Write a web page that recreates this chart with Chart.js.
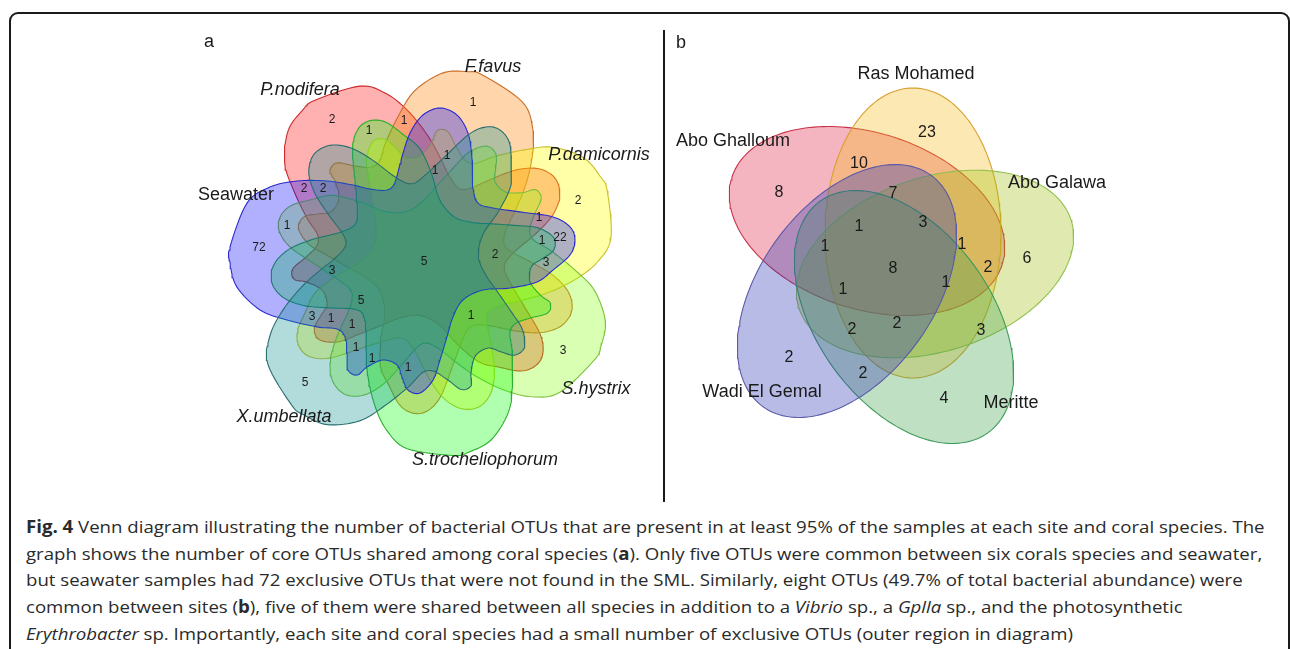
<!DOCTYPE html>
<html>
<head>
<meta charset="utf-8">
<script src="https://cdn.jsdelivr.net/npm/chart.js@4.4.1/dist/chart.umd.min.js"></script>
<style>
  html, body { margin: 0; padding: 0; background: #fff; width: 1290px; height: 649px; overflow: hidden; }
  #frame { position: absolute; left: 9px; top: 12px; width: 1281px; height: 700px; box-sizing: border-box;
           border: 2px solid #1a1a1a; border-radius: 9px; }
  #divider { position: absolute; left: 663px; top: 30px; width: 2px; height: 472px; background: #1a1a1a; }
  #wrapA { position: absolute; left: 0; top: 0; width: 664px; height: 505px; }
  #wrapB { position: absolute; left: 666px; top: 0; width: 624px; height: 505px; }
  #caption { position: absolute; left: 26px; top: 514px; font-family: "Open Sans", sans-serif; font-size: 17px;
             color: #2a2a2a; transform-origin: 0 0; }
  #caption div { height: 26.7px; line-height: 26.7px; white-space: nowrap; }
</style>
</head>
<body>
<div id="frame"></div>
<div id="divider"></div>
<div id="wrapA"><canvas id="venn7" width="664" height="505"></canvas></div>
<div id="wrapB"><canvas id="venn5" width="624" height="505"></canvas></div>
<div id="caption">
  <div id="cap1"><b>Fig. 4</b> Venn diagram illustrating the number of bacterial OTUs that are present in at least 95% of the samples at each site and coral species. The</div>
  <div>graph shows the number of core OTUs shared among coral species (<b>a</b>). Only five OTUs were common between six corals species and seawater,</div>
  <div>but seawater samples had 72 exclusive OTUs that were not found in the SML. Similarly, eight OTUs (49.7% of total bacterial abundance) were</div>
  <div>common between sites (<b>b</b>), five of them were shared between all species in addition to a <i>Vibrio</i> sp., a <i>Gplla</i> sp., and the photosynthetic</div>
  <div><i>Erythrobacter</i> sp. Importantly, each site and coral species had a small number of exclusive OTUs (outer region in diagram)</div>
</div>

<script>
// ---- data: panel a (coral species + seawater)
const setsA = ['Seawater', 'P.nodifera', 'F.favus', 'P.damicornis', 'S.hystrix', 'S.trocheliophorum', 'X.umbellata'];
const countsA = [72, 2, 1, 2, 3, 5, 1, 1, 1, 1, 2, 2, 1, 1, 1, 22, 3, 5, 2, 3, 5, 3, 1, 1, 1, 1, 1, 1];

// ---- data: panel b (sites)
const setsB = ['Abo Ghalloum', 'Ras Mohamed', 'Abo Galawa', 'Meritte', 'Wadi El Gemal'];
const countsB = [23, 10, 8, 7, 3, 1, 1, 1, 6, 2, 8, 1, 1, 2, 2, 3, 2, 2, 4];

// ---- layout (where the region numbers and set names sit)
const countPosA = [[259,248],[332,120],[473,103],[578,201],[563,351],[305,383],[404,121],[369,131],[447,156],[435,171],
  [304,189],[323,189],[287,226],[539,218],[542,241],[560,238],[546,263],[424,262],[495,255],[332,271],[361,301],
  [312,317],[331,319],[352,325],[471,316],[356,348],[372,359],[408,368]];
const namePosA = [[236,195],[300,90],[493,67],[599,155],[596,389],[485,460],[284,417]];
const countPosB = [[927,133],[859,164],[779,193],[893,194],[923,223],[859,227],[825,247],[962,245],[1027,259],[988,268],
  [893,269],[946,283],[843,290],[852,330],[897,324],[981,331],[789,358],[863,374],[944,399]];
const namePosB = [[733,141],[916,74],[1057,183],[1011,403],[762,392]];

// 7-set shape: one petal outline (polar, around the centre), rotated for each set
const centreA = [425, 262];
const petalAngles = [184.4,198.3,205.8,212.3,219.6,226.9,233,242.2,249.4,257.6,263.4,269.2,275.6,282.3,288.4,294.1,302.6,
  311.9,321.5,332.2,340.6,346.4,351.7,357.2,363.6,370.1,377,385.8,405,423,433.7,441.3,446.1,452.2,457.6,461.3,465.2,
  473.2,478.9,481,485.5,490.6,496.8,502.7,509,517.2,523.8,532.4,539.7];
const petalRadii = [195.6,187.5,172.2,151.5,127.1,105.4,91.4,81.4,85.4,107.5,129.9,147,154.7,150.4,136,115,89,79.3,86.8,
  107.4,135.7,149.2,151.6,145.2,128.2,113.8,88.9,64.4,53.7,61.7,78.2,99.1,118.3,131.1,129.1,117.3,106.7,106.6,120,131.9,
  132.6,119.9,109.7,110.6,126,149.7,171.8,189.7,195];

const fillA = ['rgba(0,0,255,0.31)','rgba(255,0,0,0.31)','rgba(255,128,0,0.33)','rgba(255,255,0,0.34)',
  'rgba(128,255,0,0.30)','rgba(0,255,0,0.31)','rgba(0,139,139,0.30)'];
const lineA = ['#2a2ad0','#cc2a2a','#c8702a','#c8c02a','#7cc03a','#2ab02a','#2a6e6e'];
const stackA = [5, 0, 1, 2, 3, 4, 6];   // paint order, 0 = bottom

// 5-set ellipses: centre x, centre y, semi-axes, rotation
const ellB = [[867,221,142,88,18],[913,233,145,88,90],[935,264,143,87,162],[904,317,143,87,54],[847,291,143,87,126]];
const fillB = ['rgba(225,25,60,0.32)','rgba(245,185,20,0.32)','rgba(160,190,10,0.32)','rgba(60,160,70,0.32)','rgba(50,60,180,0.35)'];
const lineB = ['#c83248','#d8a030','#94c050','#3c9c5a','#5a5aa8'];
const stackB = [0, 1, 2, 3, 4];

function closedSpline(pts, steps) {
  const out = [], n = pts.length;
  for (let i = 0; i < n; i++) {
    const p0 = pts[(i - 1 + n) % n], p1 = pts[i], p2 = pts[(i + 1) % n], p3 = pts[(i + 2) % n];
    for (let s = 0; s < steps; s++) {
      const t = s / steps, t2 = t * t, t3 = t2 * t;
      const f = k => 0.5 * (2 * p1[k] + (-p0[k] + p2[k]) * t + (2 * p0[k] - 5 * p1[k] + 4 * p2[k] - p3[k]) * t2 +
        (-p0[k] + 3 * p1[k] - 3 * p2[k] + p3[k]) * t3);
      out.push({x: f(0), y: f(1)});
    }
  }
  out.push(out[0]);
  return out;
}

function petal(k) {
  const rot = k * 360 / 7;
  const pts = petalAngles.map((a, i) => {
    const t = (a + rot) * Math.PI / 180;
    return [centreA[0] + petalRadii[i] * Math.cos(t), centreA[1] + petalRadii[i] * Math.sin(t)];
  });
  return closedSpline(pts, 8);
}

function ellipse([cx, cy, a, b, deg]) {
  const p = deg * Math.PI / 180, out = [];
  for (let d = 0; d <= 360; d += 2) {
    const t = d * Math.PI / 180;
    out.push({x: cx + a * Math.cos(t) * Math.cos(p) - b * Math.sin(t) * Math.sin(p),
              y: cy + a * Math.cos(t) * Math.sin(p) + b * Math.sin(t) * Math.cos(p)});
  }
  return out;
}

// writes region counts and set names at the points of the text datasets
const vennText = {
  id: 'vennText',
  afterDatasetsDraw(chart, args, opts) {
    const ctx = chart.ctx;
    ctx.save();
    ctx.textAlign = 'center';
    ctx.textBaseline = 'middle';
    ctx.fillStyle = '#1a1a1a';
    chart.data.datasets.forEach((ds, i) => {
      if (!ds.texts) return;
      const meta = chart.getDatasetMeta(i);
      meta.data.forEach((pt, j) => {
        ctx.font = typeof ds.font === 'function' ? ds.font(j) : ds.font;
        ctx.fillText(String(ds.texts[j]), pt.x, pt.y);
      });
    });
    ctx.font = '18px "Liberation Sans", Arial, sans-serif';
    ctx.textAlign = 'left';
    ctx.fillText(opts.letter, chart.scales.x.getPixelForValue(opts.letterAt[0]), chart.scales.y.getPixelForValue(opts.letterAt[1]));
    ctx.restore();
  }
};

function textSet(pos, texts, font) {
  return {data: pos.map(([x, y]) => ({x, y})), texts, font, pointRadius: 0, showLine: false, order: 0};
}

function vennChart(id, shapes, fills, lines, stack, countSet, nameSet, xr, letter, letterAt) {
  // chart.js paints higher "order" first, so the bottom layer gets the largest value
  const datasets = shapes.map((pts, i) => ({
    data: pts, showLine: true, fill: 'shape', tension: 0, pointRadius: 0, order: 10 - stack[i],
    backgroundColor: fills[i], borderColor: lines[i], borderWidth: 1.1
  }));
  datasets.push(countSet, nameSet);
  return new Chart(document.getElementById(id), {
    type: 'scatter',
    data: {datasets},
    options: {
      responsive: false,
      animation: false,
      layout: {padding: 0},
      scales: {
        x: {type: 'linear', min: xr[0], max: xr[1], display: false},
        y: {type: 'linear', min: 0, max: 505, reverse: true, display: false}
      },
      plugins: {legend: {display: false}, tooltip: {enabled: false}, vennText: {letter, letterAt}}
    },
    plugins: [vennText]
  });
}

const sans = '"Liberation Sans", Arial, sans-serif';
vennChart('venn7', setsA.map((_, k) => petal(k)), fillA, lineA, stackA,
  textSet(countPosA, countsA, '12px ' + sans),
  textSet(namePosA, setsA, j => (setsA[j] === 'Seawater' ? '' : 'italic ') + '18px ' + sans),
  [0, 664], 'a', [204, 42]);
vennChart('venn5', ellB.map(ellipse), fillB, lineB, stackB,
  textSet(countPosB, countsB, '16px ' + sans),
  textSet(namePosB, setsB, '18px ' + sans),
  [666, 1290], 'b', [676, 43]);

// fit the caption's width to the printed figure's condensed type
const cap = document.getElementById('caption');
const w1 = document.getElementById('cap1').scrollWidth;
cap.style.transform = 'scaleX(' + (1239 / w1) + ')';
</script>
</body>
</html>
